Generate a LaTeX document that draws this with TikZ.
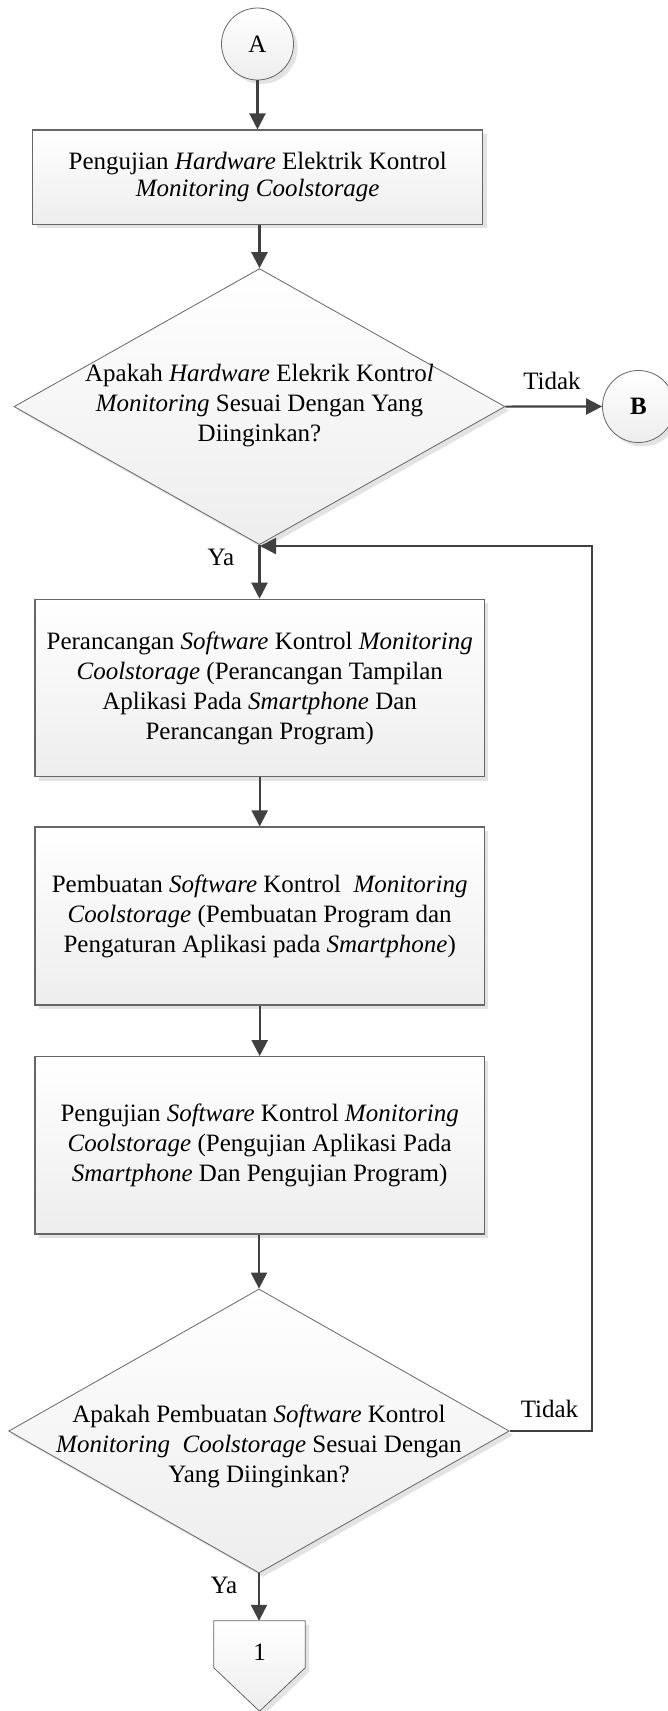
\documentclass[tikz,border=0pt]{standalone}
\usepackage{fontspec}
\setmainfont{Liberation Serif}
\usetikzlibrary{shapes.geometric,arrows.meta,shadows,calc}
\definecolor{linec}{HTML}{404040}
\definecolor{bordc}{HTML}{666666}
\definecolor{shadc}{HTML}{E3E3E3}
\begin{document}
\begin{tikzpicture}[x=1pt,y=-1pt,
  font=\fontsize{25}{30}\selectfont,
  shad/.style={drop shadow={shadow xshift=4pt,shadow yshift=-4pt,fill=shadc,opacity=1}},
  grad/.style={top color=white,bottom color=black!7},
  procbox/.style={draw=bordc,line width=1.2pt,grad,shad,inner sep=0pt,align=center,minimum width=449.5pt},
  decbox/.style={shape=diamond,draw=bordc,line width=0.8pt,grad,shad,inner sep=0pt},
  conn/.style={shape=circle,draw=bordc,line width=0.8pt,grad,shad,inner sep=0pt,minimum size=72pt},
  txt/.style={inner sep=0pt,align=center},
  arr/.style={draw=linec,line width=2.2pt,-{Triangle[length=16pt,width=16pt]}}
]
\useasboundingbox (0,0) rectangle (668,1711);

% nodes
\node[conn] (A) at (257.5,44) {A};
\node[procbox,minimum width=450pt,minimum height=94.3pt,font=\fontsize{25}{27}\selectfont] (b1) at (257.7,177.2)
  {Pengujian \textit{Hardware} Elektrik Kontrol\\ \textit{Monitoring Coolstorage}};
\node[decbox,minimum width=491pt,minimum height=276pt] (d1) at (259.5,406.6) {};
\node[txt] (d1t) at (259.5,405.5)
  {Apakah \textit{Hardware} Elekrik Kontro\textit{l}\\ \textit{Monitoring} Sesuai Dengan Yang\\ Diinginkan?};
\node[conn] (B) at (638.5,406.5) {\textbf{B}};
\node[procbox,minimum height=177.4pt] (b2) at (259.7,688)
  {Perancangan \textit{Software} Kontrol \textit{Monitoring}\\ \textit{Coolstorage} (Perancangan Tampilan\\ Aplikasi Pada \textit{Smartphone} Dan\\ Perancangan Program)};
\node[procbox,minimum height=178pt] (b3) at (259.7,916)
  {Pembuatan \textit{Software} Kontrol\ \ \textit{Monitoring}\\ \textit{Coolstorage} (Pembuatan Program dan\\ Pengaturan Aplikasi pada \textit{Smartphone})};
\node[procbox,minimum height=177.3pt] (b4) at (259.7,1145.3)
  {Pengujian \textit{Software} Kontrol \textit{Monitoring}\\ \textit{Coolstorage} (Pengujian Aplikasi Pada\\ \textit{Smartphone} Dan Pengujian Program)};
\node[decbox,minimum width=500.5pt,minimum height=284pt] (d2) at (259,1431) {};
\node[txt] (d2t) at (259,1446)
  {Apakah Pembuatan \textit{Software} Kontrol\\ \textit{Monitoring}\ \ \textit{Coolstorage} Sesuai Dengan\\ Yang Diinginkan?};

% off-page connector
\node[inner sep=0pt,minimum width=91pt,minimum height=90pt] (p1) at (259.5,1666) {};
\path[draw=bordc,line width=0.8pt,grad,shad]
  (p1.north west) -- (p1.north east) -- ($(p1.north east)+(0,47)$) -- (p1.south)
  -- ($(p1.north west)+(0,47)$) -- cycle;
\node[txt] (p1t) at (259.5,1652) {1};

% labels
\node[txt] (tidak1) at (552,381) {Tidak};
\node[txt] (ya1) at (221,557) {Ya};
\node[txt] (tidak2) at (549.5,1409) {Tidak};
\node[txt] (ya2) at (224,1585) {Ya};

% connectors
\draw[arr] (A.south) -- (A.south |- b1.north);
\draw[arr] (b1.south -| d1.north) -- (d1.north);
\draw[arr] (d1.east) -- (B.west);
\draw[arr] (d1.south) -- (d1.south |- b2.north);
\draw[arr] (b2.south) -- (b3.north);
\draw[arr] (b3.south) -- (b4.north);
\draw[arr] (b4.south -| d2.north) -- (d2.north);
\draw[arr] (d2.south) -- (d2.south |- p1.north);
\coordinate (loopc) at (592,546);
\coordinate (join) at (260,546);
\draw[arr] (d2.east) -| (loopc) -- (join);
\end{tikzpicture}
\end{document}
